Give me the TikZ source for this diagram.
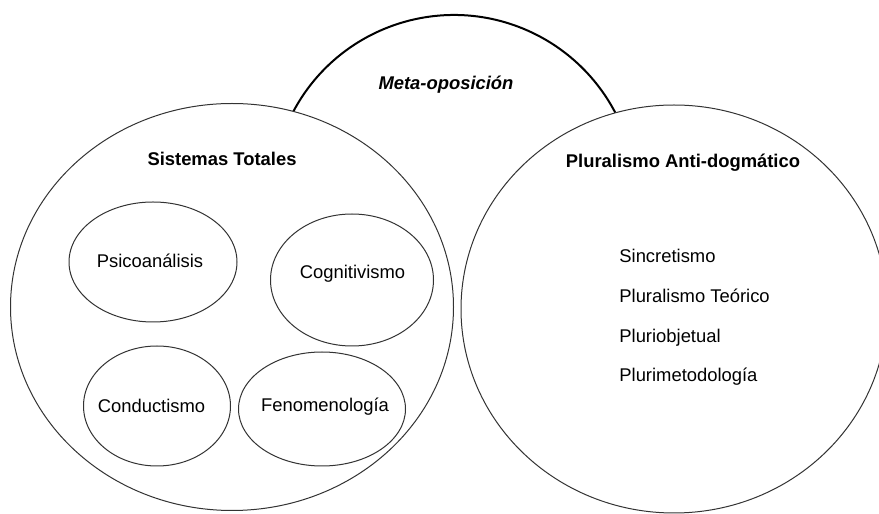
\documentclass[tikz,border=0pt]{standalone}
\usepackage{fontspec}
\setmainfont{Liberation Sans}
\usepackage{xcolor}

\begin{document}
\begin{tikzpicture}[x=0.5pt, y=0.5pt]
  \tikzstyle{myline}=[black!80, line width=0.5pt, line cap=round, line join=round];
  \tikzstyle{txt}=[font=\fontsize{9.2pt}{11pt}\selectfont, inner sep=0pt];
  \tikzstyle{ttl}=[txt, font=\fontsize{9.2pt}{11pt}\selectfont\bfseries];
  %
  % frame
  \useasboundingbox (0, 0) rectangle (879, 514);
  %
  % meta-opposition arc
  \coordinate (metaO) at (454, 317);
  \draw[black, line width=1pt] (metaO) ++(155:182) arc (155:25:182);
  \node[ttl, font=\fontsize{9.2pt}{11pt}\selectfont\bfseries\itshape] (meta) at (446, 429) {Meta-oposición};
  %
  % total systems
  \tikzstyle{big}=[myline, fill=white];
  \tikzstyle{small}=[myline];
  \coordinate (sisO) at (232, 207);
  \draw[big] (sisO) ellipse (221.5 and 203.5);
  \node[ttl] (sistemas) at (222, 355) {Sistemas Totales};
  \draw[small] (153, 252) ellipse (84 and 60);
  \node[txt] (psico) at (150, 253) {Psicoanálisis};
  \draw[small] (352, 234) ellipse (81.5 and 66);
  \node[txt] (cogni) at (352.5, 240) {Cognitivismo};
  \draw[small] (157, 108) ellipse (73.5 and 60);
  \node[txt] (conduc) at (151.5, 108) {Conductismo};
  \draw[small] (322, 105) ellipse (83.5 and 57);
  \node[txt] (fenom) at (325, 107) {Fenomenología};
  %
  % anti-dogmatic pluralism
  \coordinate (pluO) at (674, 205);
  \draw[big] (pluO) ellipse (213 and 204);
  \node[ttl] (plural) at (683, 351) {Pluralismo Anti-dogmático};
  \node[txt, anchor=base west] (sincre) at (619, 251) {Sincretismo};
  \node[txt, anchor=base west] (teori) at (619, 211) {Pluralismo Teórico};
  \node[txt, anchor=base west] (objet) at (619, 171.5) {Pluriobjetual};
  \node[txt, anchor=base west] (metod) at (619, 132) {Plurimetodología};
\end{tikzpicture}
\end{document}
